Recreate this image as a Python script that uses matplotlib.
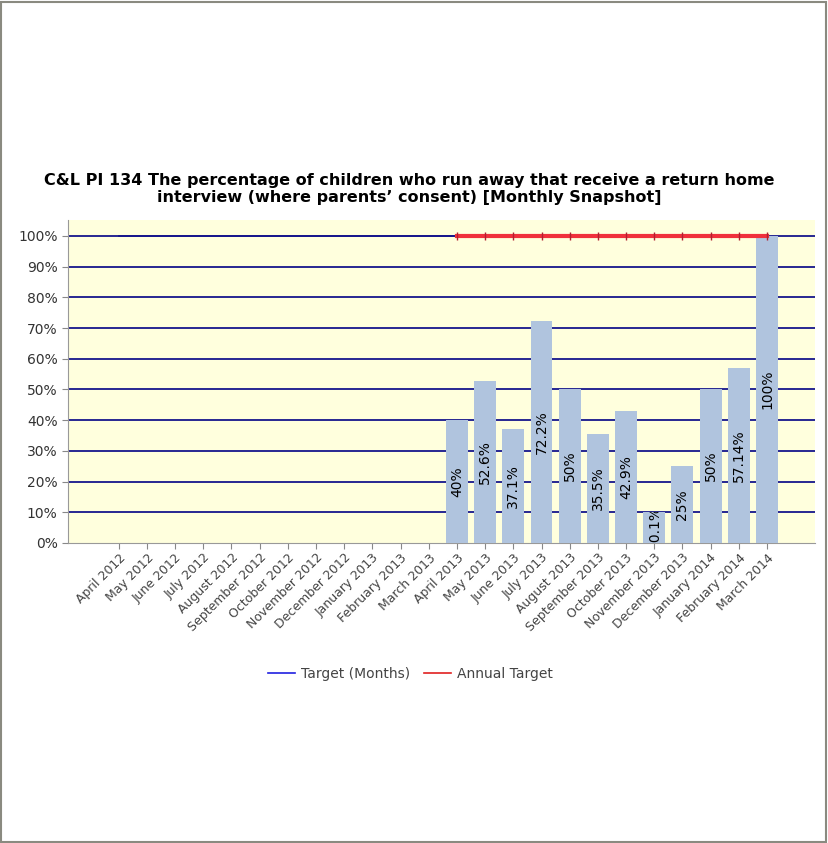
import matplotlib
matplotlib.use("Agg")
import matplotlib.pyplot as plt
from matplotlib.patches import Rectangle
from matplotlib.lines import Line2D
import numpy as np

# ---------------------- DATA ----------------------
months = ["April 2012", "May 2012", "June 2012", "July 2012", "August 2012",
          "September 2012", "October 2012", "November 2012", "December 2012",
          "January 2013", "February 2013", "March 2013", "April 2013", "May 2013",
          "June 2013", "July 2013", "August 2013", "September 2013", "October 2013",
          "November 2013", "December 2013", "January 2014", "February 2014", "March 2014"]
values = [None] * 12 + [40, 52.6, 37.1, 72.2, 50, 35.5, 42.9, 10.1, 25, 50, 57.14, 100]
labels = [None] * 12 + ["40%", "52.6%", "37.1%", "72.2%", "50%", "35.5%", "42.9%",
                        "10.1%", "25%", "50%", "57.14%", "100%"]
monthly_target = [100] * 24
annual_target = [None] * 12 + [100] * 12
yticks = [0, 10, 20, 30, 40, 50, 60, 70, 80, 90, 100]

title = ("C&L PI 134 The percentage of children who run away that receive a return home\n"
         "interview (where parents\u2019 consent) [Monthly Snapshot]")

# ---------------------- FIGURE ----------------------
fig = plt.figure(figsize=(8.29, 8.43), dpi=100)
fig.patch.set_facecolor("white")
fig.patches.append(Rectangle((0.001, 0.001), 0.995, 0.997, transform=fig.transFigure,
                             fill=False, edgecolor="#8a8a80", linewidth=1.5))

ax = fig.add_axes([0.082, 0.356, 0.901, 0.383])
ax.set_facecolor("#FFFFDD")

x = np.arange(len(months))
for i, (v, lab) in enumerate(zip(values, labels)):
    if v is None:
        continue
    bar = ax.bar(i, v, width=0.78, color="#B0C4DE", zorder=3)[0]
    t = ax.text(i, v / 2, lab, rotation=90, ha="center", va="center",
                fontsize=10, color="black", zorder=4, clip_on=True)
    t.set_clip_path(bar)

# gridlines
for y in yticks[1:]:
    ax.axhline(y, color="#16168C", linewidth=1.3, zorder=2)

# target lines
ax.plot(x, monthly_target, color="#16168C", linewidth=1.3, zorder=2)
tx = [i for i, v in enumerate(annual_target) if v is not None]
ty = [v for v in annual_target if v is not None]
ax.plot(tx, ty, color="#F0303C", linewidth=3, marker="|", markersize=6,
        markeredgewidth=1, markeredgecolor="#B02030", zorder=5)

ax.set_xlim(-1.8, 24.7)
ax.set_ylim(0, 105.2)
ax.set_yticks(yticks)
ax.set_yticklabels([f"{y}%" for y in yticks], fontsize=10, color="#333333")
ax.set_xticks(x)
ax.set_xticklabels(months, rotation=45, ha="right", rotation_mode="anchor",
                   fontsize=9, color="#444444")
ax.tick_params(axis="both", length=4, color="#888888")
ax.tick_params(axis="x", pad=2)

for side in ["top", "right"]:
    ax.spines[side].set_visible(False)
for side in ["left", "bottom"]:
    ax.spines[side].set_color("#999999")

# title, sized so the first line spans about 735 px
ttl = fig.text(0.494, 0.776, title, ha="center", va="center", fontsize=10.5,
               fontweight="bold", linespacing=1.15)
r = fig.canvas.get_renderer()
probe = fig.text(0, 0, title.split("\n")[0], fontsize=10.5, fontweight="bold")
w = probe.get_window_extent(r).width
probe.remove()
ttl.set_fontsize(10.5 * 735 / w)

# legend
handles = [Line2D([0], [0], color="#2020E0", linewidth=1.2),
           Line2D([0], [0], color="#E02020", linewidth=1.2)]
leg = fig.legend(handles, ["Target (Months)", "Annual Target"], loc="center",
                 bbox_to_anchor=(0.495, 0.201), ncol=2, frameon=False, fontsize=10,
                 handlelength=1.95, handletextpad=0.4, columnspacing=1.0)
for txt in leg.get_texts():
    txt.set_color("#444444")

fig.savefig("out.png", dpi=100)
